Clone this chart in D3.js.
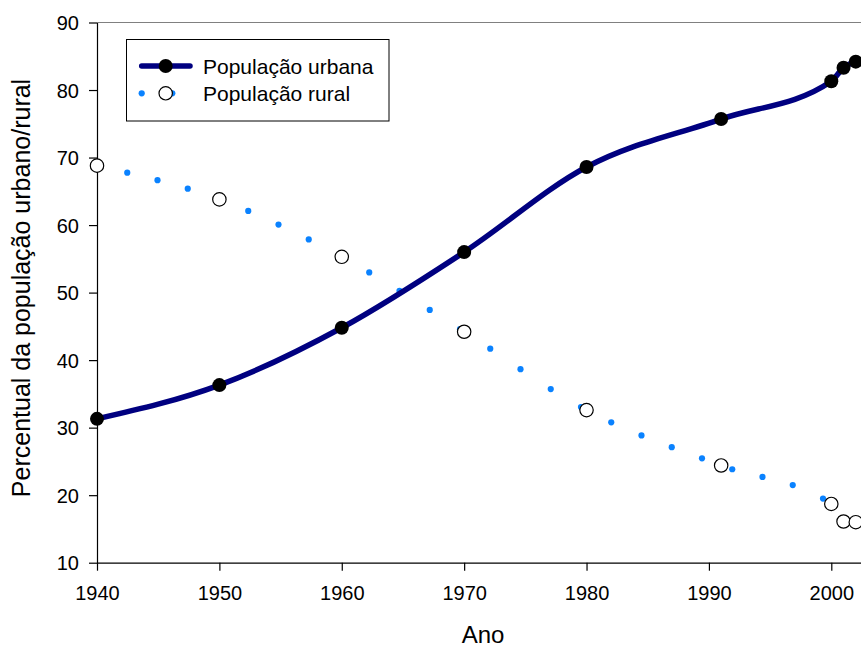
<!DOCTYPE html>
<html>
<head>
<meta charset="utf-8">
<script src="https://cdn.jsdelivr.net/npm/d3@7"></script>
<style>
  html, body { margin: 0; padding: 0; background: #fff; overflow: hidden; }
  svg { display: block; font-family: "Liberation Sans", Arial, sans-serif; }
</style>
</head>
<body>
<svg id="chart" width="861" height="648"></svg>
<script>
// ---- data ----
const years = [1940, 1950, 1960, 1970, 1980, 1991, 2000, 2001, 2002];
const urbanValues = [31.3, 36.3, 44.8, 56.0, 68.6, 75.7, 81.3, 83.3, 84.2];
const ruralValues = [68.8, 63.8, 55.3, 44.2, 32.6, 24.4, 18.7, 16.1, 16.0];
const xTicks = [1940, 1950, 1960, 1970, 1980, 1990, 2000];
const yTicks = [10, 20, 30, 40, 50, 60, 70, 80, 90];
const seriesNames = ["População urbana", "População rural"];
const xTitle = "Ano";
const yTitle = "Percentual da população urbano/rural";

const svg = d3.select("#chart");
const mLeft = 97, mTop = 22.5, mBottom = 562.7;
const pxPerYear = (831.3 - 97) / 60;
const x = d3.scaleLinear().domain([1940, 2005]).range([mLeft, mLeft + 65 * pxPerYear]);
const y = d3.scaleLinear().domain([10, 90]).range([mBottom, mTop]);

const urbanColor = "#000080";
const ruralColor = "#0a82ff";

// frame: top gray line
svg.append("line")
  .attr("x1", mLeft).attr("x2", x(2005)).attr("y1", mTop).attr("y2", mTop)
  .attr("stroke", "#808080").attr("stroke-width", 1.2);

// axes
const yAxis = d3.axisLeft(y).tickValues(yTicks).tickSize(8).tickSizeOuter(0).tickPadding(10);
const gy = svg.append("g").attr("transform", `translate(${mLeft},0)`).call(yAxis);
const xAxis = d3.axisBottom(x).tickValues(xTicks).tickFormat(d3.format("d")).tickSize(8).tickSizeOuter(0).tickPadding(15);
const gx = svg.append("g").attr("transform", `translate(0,${mBottom})`).call(xAxis);
[gx, gy].forEach(g => {
  g.select(".domain").attr("stroke", "#000").attr("stroke-width", 1.2);
  g.selectAll(".tick line").attr("stroke", "#000").attr("stroke-width", 1.2);
  g.selectAll(".tick text").attr("fill", "#000").style("font-size", "20px")
    .style("font-family", '"Liberation Sans", Arial, sans-serif');
});
gy.selectAll(".tick text").attr("dy", "0.36em");

// titles
svg.append("text")
  .attr("transform", `translate(30,288) rotate(-90)`)
  .attr("text-anchor", "middle")
  .style("font-size", "25px")
  .text(yTitle);
svg.append("text")
  .attr("x", 483).attr("y", 643)
  .attr("text-anchor", "middle")
  .style("font-size", "24px")
  .text(xTitle);

const line = d3.line().curve(d3.curveMonotoneX).x(d => x(d[0])).y(d => y(d[1]));
const urbanData = years.map((yr, i) => [yr, urbanValues[i]]);
const ruralData = years.map((yr, i) => [yr, ruralValues[i]]);

// rural dotted curve: dots placed at equal x steps along the fitted curve
const ruralPath = svg.append("path").attr("d", line(ruralData))
  .attr("fill", "none").attr("stroke", "none");
const node = ruralPath.node();
const total = node.getTotalLength();
function pointAtX(px) {
  let lo = 0, hi = total;
  for (let k = 0; k < 40; k++) {
    const mid = (lo + hi) / 2;
    if (node.getPointAtLength(mid).x < px) lo = mid; else hi = mid;
  }
  return node.getPointAtLength((lo + hi) / 2);
}
const dotStep = 30.25;
const xStart = x(years[0]), xEnd = x(years[years.length - 1]);
const dotXs = d3.range(xStart, xEnd + 0.01, dotStep);
svg.append("g").selectAll("circle").data(dotXs).join("circle")
  .attr("cx", d => pointAtX(d).x).attr("cy", d => pointAtX(d).y)
  .attr("r", 3.1).attr("fill", ruralColor);

// urban line
svg.append("path").attr("d", line(urbanData))
  .attr("fill", "none").attr("stroke", urbanColor).attr("stroke-width", 5.5)
  .attr("stroke-linejoin", "round");

// markers
svg.append("g").selectAll("circle").data(urbanData).join("circle")
  .attr("cx", d => x(d[0])).attr("cy", d => y(d[1])).attr("r", 7)
  .attr("fill", "#000");
svg.append("g").selectAll("circle").data(ruralData).join("circle")
  .attr("cx", d => x(d[0])).attr("cy", d => y(d[1])).attr("r", 6.7)
  .attr("fill", "#fff").attr("stroke", "#000").attr("stroke-width", 1.2);

// legend
const lg = svg.append("g");
lg.append("rect").attr("x", 126.5).attr("y", 39.5).attr("width", 262.5).attr("height", 81.5)
  .attr("fill", "#fff").attr("stroke", "#000").attr("stroke-width", 1);
lg.append("line").attr("x1", 141.7).attr("x2", 190).attr("y1", 66).attr("y2", 66)
  .attr("stroke", urbanColor).attr("stroke-width", 5.5).attr("stroke-linecap", "round");
lg.append("circle").attr("cx", 165.7).attr("cy", 66).attr("r", 7).attr("fill", "#000");
[141.7, 172.3].forEach(cx => {
  lg.append("circle").attr("cx", cx).attr("cy", 93.3).attr("r", 3.1).attr("fill", ruralColor);
});
lg.append("circle").attr("cx", 165.7).attr("cy", 93.3).attr("r", 6.7)
  .attr("fill", "#fff").attr("stroke", "#000").attr("stroke-width", 1.2);
lg.selectAll("text.lab").data(seriesNames).join("text").attr("class", "lab")
  .attr("x", 203).attr("y", (d, i) => 73.5 + i * 27.3)
  .style("font-size", "21px").text(d => d);
</script>
</body>
</html>
